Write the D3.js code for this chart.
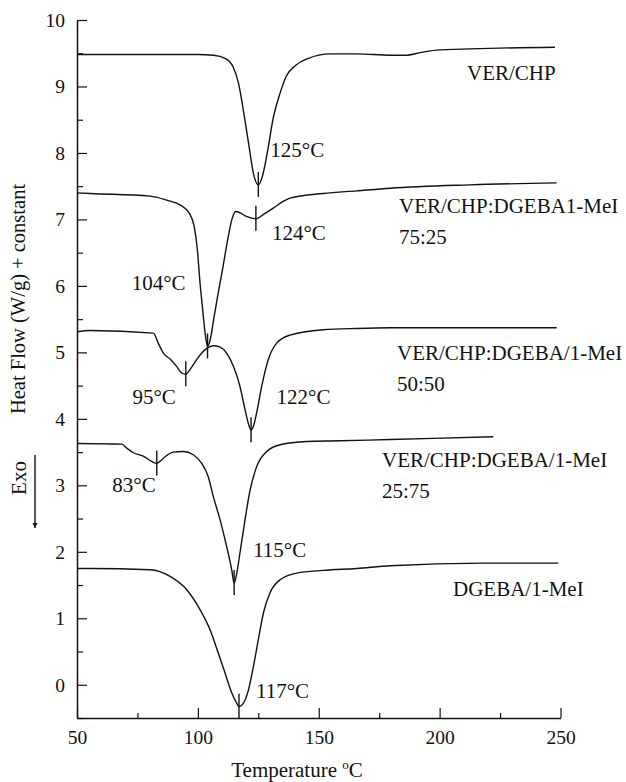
<!DOCTYPE html>
<html>
<head>
<meta charset="utf-8">
<script src="https://cdn.jsdelivr.net/npm/d3@7"></script>
<style>
  html, body { margin: 0; padding: 0; background: #fff; }
  svg { display: block; }
  text { font-family: "Liberation Serif", "Times New Roman", serif; fill: #111; }
</style>
</head>
<body>
<svg id="chart" width="626" height="782"></svg>
<script>
// DSC heat-flow traces, offset vertically (temperature in °C, heat flow + constant in W/g)
const verChp = [[50,9.48],[70,9.48],[88.5,9.48],[100,9.48],[106.4,9.47],[111.5,9.42],[114.5,9.30],[116.8,9.05],[119.0,8.60],[121.2,8.09],[123.0,7.69],[125,7.52],[126.7,7.65],[128.7,8.00],[131.3,8.55],[134.0,8.90],[136.5,9.15],[140.5,9.32],[145.5,9.42],[154.7,9.49],[165.7,9.49],[179.5,9.47],[186,9.47],[192,9.51],[200,9.55],[247.7,9.59]];
const mix75 = [[50,7.40],[55.4,7.39],[80.2,7.35],[87.1,7.29],[92.6,7.22],[96.5,7.09],[98.5,6.89],[99.8,6.54],[100.9,6.04],[102.0,5.64],[103.0,5.29],[104,5.09],[105.1,5.19],[106.5,5.49],[108.4,5.89],[110.4,6.29],[112.3,6.69],[114.0,6.99],[115.6,7.12],[117.5,7.10],[119.8,7.05],[122.3,7.02],[124,7.01],[127.3,7.08],[131.2,7.17],[135.3,7.27],[138.1,7.32],[151.9,7.39],[165.7,7.43],[179.5,7.47],[212.6,7.52],[248.4,7.55]];
const mix50 = [[50,5.31],[55.4,5.33],[81.6,5.29],[83.6,5.14],[85.7,4.99],[88.5,4.90],[91.2,4.79],[93.3,4.69],[95,4.67],[96.7,4.74],[99.5,4.89],[101.6,4.99],[103.7,5.06],[106.4,5.10],[109.2,5.08],[111.9,4.99],[114.7,4.79],[117.4,4.49],[119.5,4.14],[121.3,3.88],[122,3.83],[122.9,3.88],[124.3,4.09],[126.4,4.49],[129.1,4.89],[132.6,5.14],[138.1,5.26],[151.9,5.34],[165.7,5.36],[179.5,5.37],[248.4,5.37]];
const mix25 = [[50,3.63],[68.5,3.62],[70.6,3.56],[73.3,3.49],[77.4,3.44],[80.9,3.36],[83,3.33],[84.3,3.36],[86.4,3.43],[89.8,3.50],[94.0,3.51],[98.1,3.46],[101.6,3.33],[104.3,3.13],[106.4,2.83],[109.2,2.48],[111.9,2.08],[114.0,1.73],[115,1.53],[116.1,1.68],[117.4,1.98],[119.5,2.48],[121.6,2.93],[124.3,3.28],[128.5,3.51],[134.0,3.61],[145.0,3.66],[158.8,3.67],[179.5,3.69],[222.2,3.73]];
const dgeba = [[50,1.75],[55.4,1.75],[80.2,1.73],[88.5,1.63],[95.4,1.43],[100.9,1.13],[105.0,0.83],[108.4,0.48],[111.2,0.18],[114.0,-0.12],[116.1,-0.28],[117,-0.33],[118.8,-0.28],[120.9,-0.08],[123.0,0.28],[125.0,0.68],[127.1,1.08],[129.8,1.38],[134.0,1.58],[140.9,1.68],[151.9,1.72],[165.7,1.75],[179.5,1.79],[218.0,1.83],[249.1,1.83]];

const seriesData = [verChp, mix75, mix50, mix25, dgeba];
const seriesNames = [
  ["VER/CHP"],
  ["VER/CHP:DGEBA1-MeI", "75:25"],
  ["VER/CHP:DGEBA/1-MeI", "50:50"],
  ["VER/CHP:DGEBA/1-MeI", "25:75"],
  ["DGEBA/1-MeI"]
];

// Peak temperatures (°C) and the trace each belongs to
const peakTemps  = [125, 124, 104, 95, 122, 83, 115, 117];
const peakSeries = [0, 1, 1, 2, 2, 3, 3, 4];

const xTicks = [50, 100, 150, 200, 250];
const xMinor = [75, 125, 175, 225];
const yTicks = [0, 1, 2, 3, 4, 5, 6, 7, 8, 9, 10];
const yMinor = [-0.5, 0.5, 1.5, 2.5, 3.5, 4.5, 5.5, 6.5, 7.5, 8.5, 9.5];

// ---- layout ----
const svg = d3.select("#chart");
const x = d3.scaleLinear().domain([50, 250]).range([77, 560.5]);
const y = d3.scaleLinear().domain([-0.5, 10]).range([718, 20]);
const labelSize = "21px";

// peak label placement, pixel offsets from the peak point
const peakLabelLayout = [
  {dx: 12, dy: -27.5, anchor: "start"},
  {dx: 16, dy: 21, anchor: "start"},
  {dx: -22, dy: -56, anchor: "end"},
  {dx: -10, dy: 30, anchor: "end"},
  {dx: 25.5, dy: -26, anchor: "start"},
  {dx: -1, dy: 28.5, anchor: "end"},
  {dx: 19, dy: -26, anchor: "start"},
  {dx: 17, dy: -8.5, anchor: "start"}
];
// series name placement (pixels), one entry per trace
const nameLayout = [
  {x: 467, y: 80},
  {x: 399, y: 213},
  {x: 397, y: 360},
  {x: 382, y: 467},
  {x: 453, y: 596}
];
const nameLineGap = 31;

svg.append("rect").attr("width", 626).attr("height", 782).attr("fill", "#fff");

// ---- axes ----
const gx = svg.append("g").attr("transform", `translate(0,${y(-0.5)})`);
gx.call(d3.axisBottom(x).tickValues(xTicks).tickSize(-10).tickSizeOuter(0).tickPadding(12).tickFormat(d3.format("d")));
const gxm = svg.append("g").attr("transform", `translate(0,${y(-0.5)})`);
gxm.call(d3.axisBottom(x).tickValues(xMinor).tickSize(-5).tickSizeOuter(0).tickFormat(""));
gxm.select(".domain").remove();

const gy = svg.append("g").attr("transform", `translate(${x(50)},0)`);
gy.call(d3.axisLeft(y).tickValues(yTicks).tickSize(-10).tickSizeOuter(0).tickPadding(12).tickFormat(d3.format("d")));
const gym = svg.append("g").attr("transform", `translate(${x(50)},0)`);
gym.call(d3.axisLeft(y).tickValues(yMinor).tickSize(-6).tickSizeOuter(0).tickFormat(""));
gym.select(".domain").remove();

svg.selectAll(".domain").attr("stroke", "#111").attr("stroke-width", 1.5);
svg.selectAll(".tick line").attr("stroke", "#111").attr("stroke-width", 1.2);
svg.selectAll(".tick text")
  .attr("fill", "#111")
  .style("font-family", "'Liberation Serif', serif")
  .style("font-size", "19.5px");

// axis titles
const xt = svg.append("text")
  .attr("x", 297)
  .attr("y", 777)
  .attr("text-anchor", "middle")
  .style("font-size", labelSize);
xt.append("tspan").text("Temperature ");
xt.append("tspan").attr("dy", -8).style("font-size", "13px").text("o");
xt.append("tspan").attr("dy", 8).text("C");

svg.append("text")
  .attr("transform", "translate(25,299) rotate(-90)")
  .attr("text-anchor", "middle")
  .style("font-size", "20.5px")
  .text("Heat Flow (W/g) + constant");

svg.append("text")
  .attr("transform", "translate(26,478) rotate(-90)")
  .attr("text-anchor", "middle")
  .style("font-size", labelSize)
  .text("Exo");

// downward "Exo" arrow
svg.append("defs").append("marker")
  .attr("id", "arrowhead")
  .attr("viewBox", "0 0 10 10")
  .attr("refX", 10).attr("refY", 5)
  .attr("markerWidth", 5).attr("markerHeight", 7)
  .attr("markerUnits", "userSpaceOnUse")
  .attr("orient", "auto")
  .append("path").attr("d", "M0,0 L10,5 L0,10 Z").attr("fill", "#111");
svg.append("line")
  .attr("x1", 35).attr("y1", 455).attr("x2", 35).attr("y2", 528)
  .attr("stroke", "#111").attr("stroke-width", 1.4)
  .attr("marker-end", "url(#arrowhead)");

// ---- traces ----
const line = d3.line()
  .x(d => x(d[0]))
  .y(d => y(d[1]))
  .curve(d3.curveMonotoneX);

svg.append("g").selectAll("path")
  .data(seriesData)
  .join("path")
  .attr("d", line)
  .attr("fill", "none")
  .attr("stroke", "#111")
  .attr("stroke-width", 1.4)
  .attr("stroke-linejoin", "round");

// ---- peak markers and labels ----
const peaks = peakTemps.map((t, i) => {
  const pts = seriesData[peakSeries[i]];
  const p = pts.find(d => d[0] === t);
  return {t, v: p[1], layout: peakLabelLayout[i]};
});

const gp = svg.append("g");
peaks.forEach(p => {
  const px = x(p.t), py = y(p.v);
  gp.append("line")
    .attr("x1", px).attr("x2", px)
    .attr("y1", py - 13).attr("y2", py + 12)
    .attr("stroke", "#111").attr("stroke-width", 1.4);
  gp.append("text")
    .attr("x", px + p.layout.dx)
    .attr("y", py + p.layout.dy)
    .attr("text-anchor", p.layout.anchor)
    .style("font-size", labelSize)
    .text(`${p.t}°C`);
});

// ---- series names ----
const gn = svg.append("g");
seriesNames.forEach((lines, i) => {
  lines.forEach((s, j) => {
    gn.append("text")
      .attr("x", nameLayout[i].x)
      .attr("y", nameLayout[i].y + j * nameLineGap)
      .style("font-size", labelSize)
      .text(s);
  });
});
</script>
</body>
</html>
